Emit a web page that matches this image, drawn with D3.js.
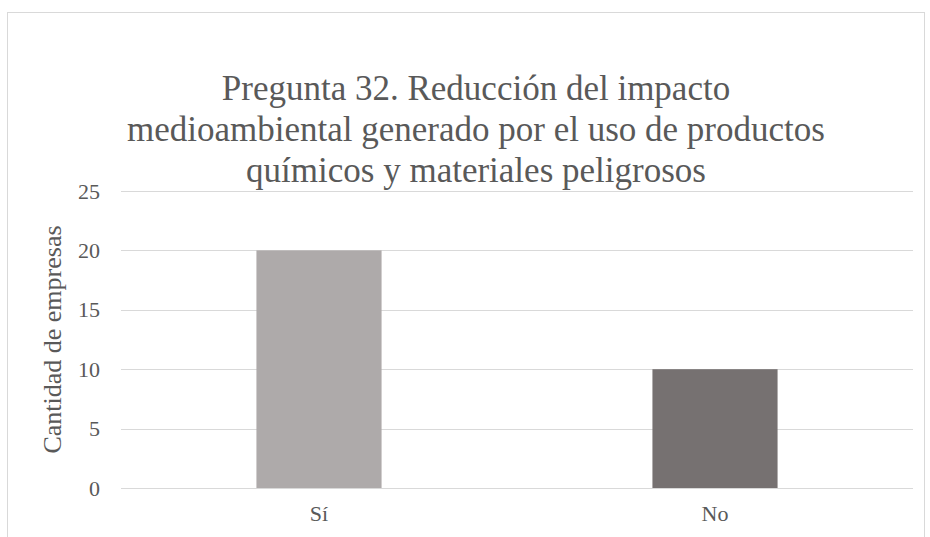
<!DOCTYPE html>
<html>
<head>
<meta charset="utf-8">
<script src="https://cdn.jsdelivr.net/npm/d3@7"></script>
<style>
  body { margin: 0; background: #fff; }
  svg { display: block; }
  text { font-family: "Liberation Serif", "Times New Roman", serif; fill: #595959; }
</style>
</head>
<body>
<svg></svg>
<script>
// Chart data
const categories = ["Sí", "No"];
const values = [20, 10];
const barColors = ["#AEAAAA", "#767171"];
const yTicks = [0, 5, 10, 15, 20, 25];
const titleLines = [
    "Pregunta 32. Reducción del impacto",
    "medioambiental generado por el uso de productos",
    "químicos y materiales peligrosos"
];
const yLabel = "Cantidad de empresas";

const width = 930;
const height = 537;

const svg = d3.select("svg")
    .attr("width", width)
    .attr("height", height);

// Chart frame
svg.append("rect")
    .attr("x", 7.5)
    .attr("y", 12.5)
    .attr("width", 917)
    .attr("height", 540)
    .attr("fill", "#fff")
    .attr("stroke", "#D9D9D9")
    .attr("stroke-width", 1);

const plot = { left: 121, right: 913, top: 191, bottom: 488 };

// Scales
const x = d3.scaleBand()
    .domain(categories)
    .range([plot.left, plot.right])
    .paddingInner(0.684)
    .paddingOuter(0.342);

const y = d3.scaleLinear()
    .domain([0, 25])
    .range([plot.bottom, plot.top]);

// Gridlines
svg.append("g")
    .selectAll("line")
    .data(yTicks)
    .enter()
    .append("line")
    .attr("x1", plot.left)
    .attr("x2", plot.right)
    .attr("y1", d => Math.round(y(d)) + 0.5)
    .attr("y2", d => Math.round(y(d)) + 0.5)
    .attr("stroke", "#D9D9D9")
    .attr("stroke-width", 1);

// Bars
svg.append("g")
    .selectAll("rect")
    .data(values)
    .enter()
    .append("rect")
    .attr("x", (d, i) => x(categories[i]))
    .attr("y", d => y(d))
    .attr("width", x.bandwidth())
    .attr("height", d => y(0) - y(d))
    .attr("fill", (d, i) => barColors[i]);

// Y axis (labels only)
const yAxis = svg.append("g")
    .attr("transform", `translate(${plot.left}, 0)`)
    .call(d3.axisLeft(y).tickValues(yTicks).tickSize(0).tickPadding(21));
yAxis.select(".domain").remove();
yAxis.selectAll("text")
    .style("font-size", "22px")
    .style("font-family", "'Liberation Serif', serif")
    .attr("fill", "#595959");

// X axis (labels only)
const xAxis = svg.append("g")
    .attr("transform", `translate(0, ${plot.bottom})`)
    .call(d3.axisBottom(x).tickSize(0).tickPadding(17));
xAxis.select(".domain").remove();
xAxis.selectAll("text")
    .style("font-size", "22px")
    .style("font-family", "'Liberation Serif', serif")
    .attr("fill", "#595959");

// Y axis title
svg.append("text")
    .attr("transform", `translate(61, ${(plot.top + plot.bottom) / 2}) rotate(-90)`)
    .attr("text-anchor", "middle")
    .style("font-size", "26px")
    .text(yLabel);

// Chart title
svg.append("text")
    .attr("text-anchor", "middle")
    .style("font-size", "35px")
    .selectAll("tspan")
    .data(titleLines)
    .enter()
    .append("tspan")
    .attr("x", 476)
    .attr("y", (d, i) => 100 + i * 41)
    .text(d => d);
</script>
</body>
</html>
